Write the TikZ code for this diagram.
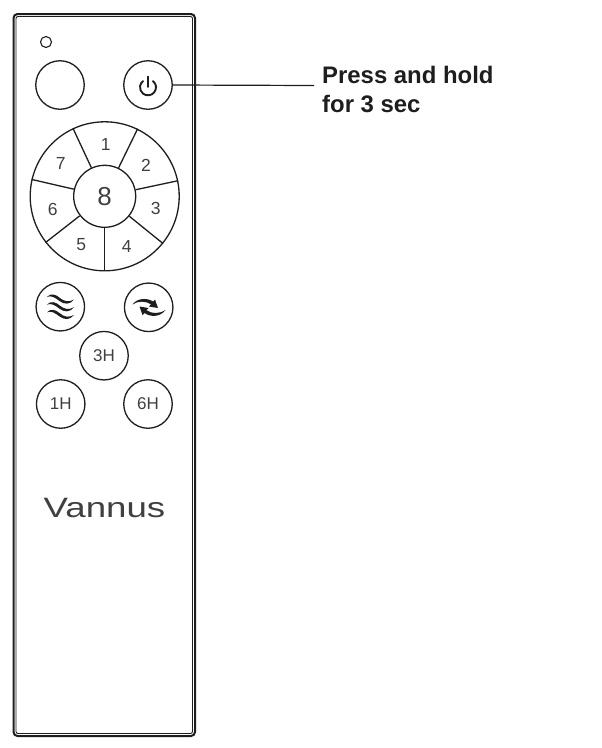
\documentclass[tikz,border=0pt]{standalone}
\usepackage{fontspec}
\setmainfont{Liberation Sans}
\newfontfamily\brandfont[FakeStretch=1.31]{Liberation Sans}
\usetikzlibrary{calc}
\definecolor{ink}{HTML}{1E1E1E}
\tikzset{
  x=1pt,y=-1pt,
  btn/.style={draw=ink,circle,line width=1.3pt,minimum size=48.5pt,inner sep=0pt,font=\fontsize{17}{17}\selectfont,text=ink!85!white},
  num/.style={inner sep=0pt,font=\fontsize{17.5}{17.5}\selectfont,text=ink!85!white},
  spoke/.style={draw=ink,line width=1.3pt},
  callout/.style={inner sep=0pt,anchor=base west,font=\fontsize{23.9}{23.9}\selectfont\bfseries,text=ink},
}
\begin{document}
\begin{tikzpicture}
\useasboundingbox (0,0) rectangle (602,748);
\fill[white] (0,0) rectangle (602,748);
% body
\draw[ink,line width=2pt,rounded corners=4pt] (13.5,14) rectangle (195,736);
\draw[ink,line width=0.9pt,rounded corners=2pt] (16,16.5) rectangle (192.5,733.5);
% LED
\node[draw=ink,circle,line width=1.1pt,minimum size=11pt,inner sep=0pt] (led) at (46,42) {};
\node[btn] (blank) at (60,85) {};
\node[btn] (power) at (148,85) {};
\draw[ink,line width=1.9pt,line cap=round] (148,76.5) -- (148,87);
\draw[ink,line width=1.9pt,line cap=round] ($(148,87.3)+(-52:8)$) arc[start angle=-52,end angle=232,radius=8];
% leader
\coordinate (leaderend) at (314,85.5);
\draw[ink,line width=1.2pt] (power.east) -- (leaderend);
\node[callout] (l1) at (322,83.3) {Press and hold};
\node[callout] (l2) at (322,112.3) {for 3 sec};
% wheel
\coordinate (c) at (104.7,196.3);
\node[draw=ink,circle,line width=1.3pt,minimum size=149pt,inner sep=0pt] (wheel) at (c) {};
\node[draw=ink,circle,line width=1.3pt,minimum size=62pt,inner sep=0pt,font=\fontsize{26}{26}\selectfont,text=ink!85!white] (hub) at (c) {8};
\foreach \a in {270,321.43,12.86,64.29,115.71,167.14,218.57}{
  \draw[spoke] (hub.\a) -- (wheel.\a);
}
\node[num] (n1) at (105.7,144.3) {1};
\node[num] (n2) at (146,165) {2};
\node[num] (n3) at (155.7,208) {3};
\node[num] (n4) at (126.7,246) {4};
\node[num] (n5) at (81.3,245) {5};
\node[num] (n6) at (52.7,209) {6};
\node[num] (n7) at (60.7,163.3) {7};
% lower buttons
\node[btn] (wind) at (60.3,306.7) {};
\node[btn] (swirl) at (148.7,307.3) {};
\node[btn] (h3) at (104,355.7) {3H};
\node[btn] (h1) at (60.7,404) {1H};
\node[btn] (h6) at (148,404) {6H};
% wind icon
\foreach \d in {0,7.7,15.4}{
  \fill[ink,shift={(0,\d)}] (46.8,297) .. controls (51,292.5) and (56,294.5) .. (60,298)
     .. controls (64,301.5) and (69,302.5) .. (74,299.5)
     .. controls (70,305) and (64,304.5) .. (59.5,301)
     .. controls (55,297.5) and (51,295) .. (46.8,297) -- cycle;
}
% swirl icon
\fill[ink] (132.5,304.5) .. controls (137,298) and (147,297.5) .. (153,301.5)
  -- (155,299.5) -- (158,308) -- (149,306.5) -- (151,304.3)
  .. controls (146,301) and (138,300.5) .. (132.5,304.5) -- cycle;
\fill[ink] (165.5,310) .. controls (160,317.5) and (150,317) .. (144.5,313)
  -- (142.5,315) -- (139.5,306.5) -- (148.5,308) -- (146.5,310.2)
  .. controls (152,314) and (159,314) .. (165.5,310) -- cycle;
% brand
\node[inner sep=0pt,anchor=base,font=\fontsize{28}{28}\selectfont\brandfont,text=ink!85!white] (brand) at (104.5,517) {Vannus};
\end{tikzpicture}
\end{document}
